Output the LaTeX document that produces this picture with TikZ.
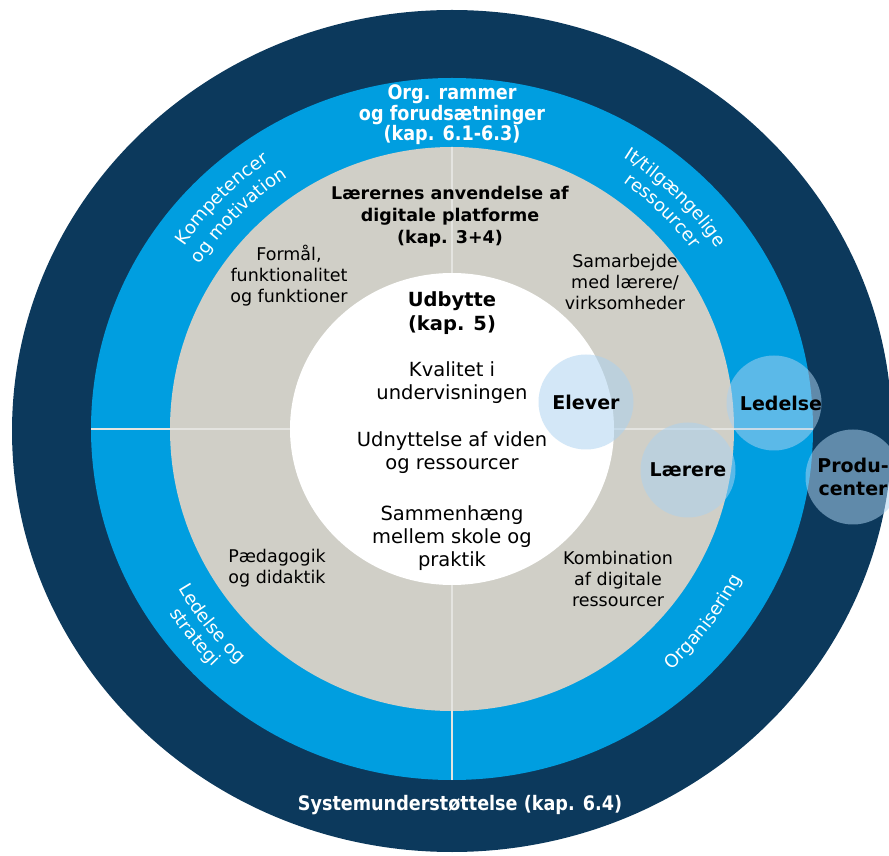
\documentclass[tikz,border=0pt]{standalone}
\usepackage{fontspec}
\setmainfont{DejaVu Sans}
\newfontfamily\condbold[FakeStretch=0.88]{DejaVu Sans Bold}
\usetikzlibrary{calc,decorations.text}
\definecolor{navy}{RGB}{12,57,92}
\definecolor{ringblue}{RGB}{0,158,224}
\definecolor{stone}{RGB}{208,207,199}
\definecolor{bub}{RGB}{172,210,240}
\definecolor{divline}{RGB}{228,228,224}
\newcommand\ringfont{\color{white}\fontsize{18}{20}\selectfont}
\begin{document}
\begin{tikzpicture}[x=1pt,y=1pt,
  divider/.style={draw=divline, line width=1.5pt},
  whitehead/.style={text=white, font=\condbold\fontsize{20}{20.5}\selectfont, align=center, inner sep=0pt},
  blackhead/.style={text=black, font=\bfseries\fontsize{17.5}{22}\selectfont, align=center, inner sep=0pt},
  innerhead/.style={text=black, font=\bfseries\fontsize{19.5}{24}\selectfont, align=center, inner sep=0pt},
  innertext/.style={text=black, font=\fontsize{19.5}{23}\selectfont, align=center, inner sep=0pt},
  graytext/.style={text=black, font=\fontsize{17.5}{21}\selectfont, align=center, inner sep=0pt},
  bubble/.style={circle, fill=bub, fill opacity=0.53, text opacity=1, minimum size=95pt, inner sep=0pt, font=\bfseries\fontsize{19}{23}\selectfont, align=center},
  bubblelabel/.style={text=black, inner sep=0pt, font=\bfseries\fontsize{19}{23}\selectfont, align=center},
  arclabel/.style={decorate, decoration={text along path, text align=center, text={|\ringfont|#1}}}
]
\useasboundingbox (0,0) rectangle (889,855);
\clip (0,0) rectangle (889,855);
\coordinate (C) at (452,426);
\coordinate (Cd) at (452,424);
% rings
\fill[navy] (Cd) ellipse [x radius=440pt, y radius=421pt];
\fill[ringblue] (C) ellipse [x radius=361pt, y radius=351pt];
\fill[stone] (C) circle [radius=282pt];
\fill[white] (C) ellipse [x radius=162pt, y radius=156pt];
% dividers
\draw[divider] (452,708) -- (452,582);
\draw[divider] (452,270) -- (452,75);
\draw[divider] (91,426) -- (290,426);
\draw[divider] (614,426) -- (813,426);
% ring headings
\node[whitehead] (org) at (452,740) {Org. rammer\\og forudsætninger\\(kap. 6.1-6.3)};
\node[whitehead] (sys) at (460,50) {Systemunderstøttelse (kap. 6.4)};
% curved ring labels
\path[arclabel={Kompetencer}] ($(C)+(165:324)$) arc[start angle=165, end angle=105, radius=324pt];
\path[arclabel={og motivation}] ($(C)+(165:301)$) arc[start angle=165, end angle=105, radius=301pt];
\path[arclabel={It/tilgængelige}] ($(C)+(76:321)$) arc[start angle=76, end angle=16, radius=321pt];
\path[arclabel={ressourcer}] ($(C)+(76:300)$) arc[start angle=76, end angle=16, radius=300pt];
\path[arclabel={Ledelse og}] ($(C)+(189:317)$) arc[start angle=189, end angle=249, radius=317pt];
\path[arclabel={strategi}] ($(C)+(189:337)$) arc[start angle=189, end angle=249, radius=337pt];
\path[arclabel={Organisering}] ($(C)+(292.5:326)$) arc[start angle=292.5, end angle=352.5, radius=326pt];
% gray ring texts
\node[blackhead] (anv) at (450,638) {Lærernes anvendelse af\\digitale platforme\\(kap. 3+4)};
\node[graytext] (form) at (289,579) {Formål,\\funktionalitet\\og funktioner};
\node[graytext] (samarb) at (625,573) {Samarbejde\\med lærere/\\virksomheder};
\node[graytext] (paed) at (277,287) {Pædagogik\\og didaktik};
\node[graytext] (komb) at (618,276) {Kombination\\af digitale\\ressourcer};
% inner circle texts
\node[innerhead] (udb) at (452,542) {Udbytte\\(kap. 5)};
\node[innertext] (kval) at (452,472) {Kvalitet i\\undervisningen};
\node[innertext] (udn) at (452,402) {Udnyttelse af viden\\og ressourcer};
\node[innertext] (sam) at (452,317) {Sammenhæng\\mellem skole og\\praktik};
% bubbles
\node[bubble] (elev) at (586,453) {Elever};
\node[bubble] (led) at (774,452) {};
\node[bubblelabel] (ledt) at (781,452) {Ledelse};
\node[bubble] (laer) at (688,385) {Lærere};
\node[bubble] (prod) at (853,378) {Produ-\\center};
\end{tikzpicture}
\end{document}
